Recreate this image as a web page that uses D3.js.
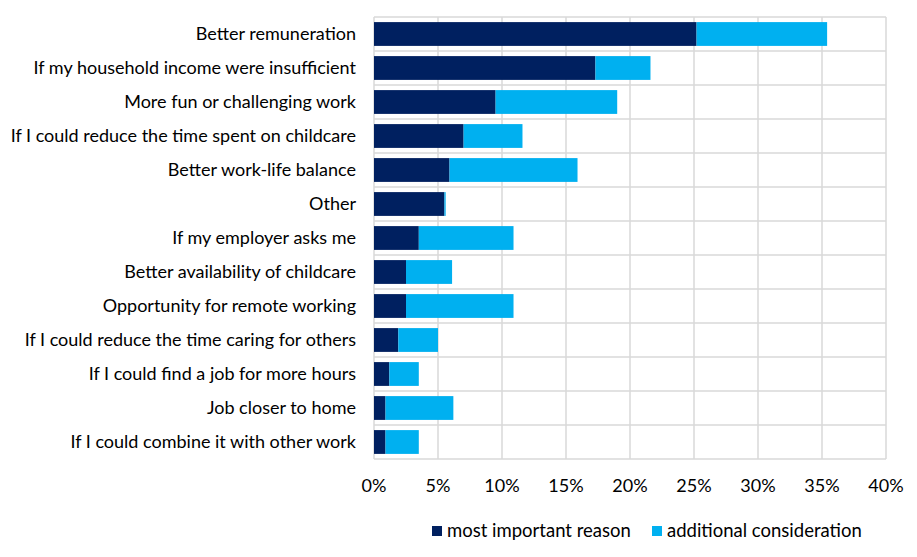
<!DOCTYPE html>
<html>
<head>
<meta charset="utf-8">
<script src="https://cdn.jsdelivr.net/npm/d3@7"></script>
<style>
  body { margin: 0; background: #fff; }
  svg text { font-family: Lato, "Open Sans", sans-serif; fill: #000; }
</style>
</head>
<body>
<svg id="chart" width="917" height="557"></svg>
<script>
const categories = [
  "Better remuneration",
  "If my household income were insufficient",
  "More fun or challenging work",
  "If I could reduce the time spent on childcare",
  "Better work-life balance",
  "Other",
  "If my employer asks me",
  "Better availability of childcare",
  "Opportunity for remote working",
  "If I could reduce the time caring for others",
  "If I could find a job for more hours",
  "Job closer to home",
  "If I could combine it with other work"
];
const mostImportant = [25.2, 17.3, 9.5, 7.0, 5.9, 5.5, 3.5, 2.5, 2.5, 1.9, 1.2, 0.9, 0.9];
const additional    = [10.2, 4.3, 9.5, 4.6, 10.0, 0.1, 7.4, 3.6, 8.4, 3.1, 2.3, 5.3, 2.6];
const seriesNames = ["most important reason", "additional consideration"];
const colors = ["#002060", "#00B0F0"];
const xTicks = [0, 5, 10, 15, 20, 25, 30, 35, 40];

const svg = d3.select("#chart");
const m = { left: 374, right: 31, top: 17, bottom: 98 };
const W = 917, H = 557;
const x = d3.scaleLinear().domain([0, 40]).range([m.left, W - m.right]);
const y = d3.scaleBand().domain(categories).range([m.top, H - m.bottom]).paddingInner(0.3).paddingOuter(0.15);

// grid
const grid = svg.append("g");
grid.selectAll("line.v").data(xTicks).join("line")
  .attr("x1", d => x(d)).attr("x2", d => x(d))
  .attr("y1", m.top).attr("y2", H - m.bottom)
  .attr("stroke", "#d9d9d9").attr("stroke-width", 1.5);
const bounds = d3.range(categories.length + 1).map(i => m.top + i * (H - m.bottom - m.top) / categories.length);
grid.selectAll("line.h").data(bounds).join("line")
  .attr("x1", x(0)).attr("x2", x(40))
  .attr("y1", d => d).attr("y2", d => d)
  .attr("stroke", "#d9d9d9").attr("stroke-width", 1.5);

// bars
const rows = categories.map((c, i) => ({ c, a: mostImportant[i], b: additional[i] }));
const g = svg.append("g");
g.selectAll("rect.a").data(rows).join("rect")
  .attr("x", x(0)).attr("y", d => y(d.c))
  .attr("width", d => x(d.a) - x(0)).attr("height", y.bandwidth())
  .attr("fill", colors[0]);
g.selectAll("rect.b").data(rows).join("rect")
  .attr("x", d => x(d.a)).attr("y", d => y(d.c))
  .attr("width", d => x(d.a + d.b) - x(d.a)).attr("height", y.bandwidth())
  .attr("fill", colors[1]);

// category labels
svg.append("g").selectAll("text").data(categories).join("text")
  .attr("x", 356).attr("y", d => y(d) + y.bandwidth() / 2)
  .attr("dy", "0.35em").attr("text-anchor", "end")
  .attr("font-size", 18).text(d => d);

// x tick labels
svg.append("g").selectAll("text").data(xTicks).join("text")
  .attr("x", d => x(d)).attr("y", 486).attr("dy", "0.35em")
  .attr("text-anchor", "middle").attr("font-size", 18)
  .text(d => d + "%");

// legend
const legX = [432, 652];
const leg = svg.append("g");
seriesNames.forEach((s, i) => {
  leg.append("rect").attr("x", legX[i]).attr("y", 526).attr("width", 10).attr("height", 10).attr("fill", colors[i]);
  leg.append("text").attr("x", legX[i] + 15).attr("y", 531).attr("dy", "0.35em")
    .attr("font-size", 18.5).text(s);
});
</script>
</body>
</html>
